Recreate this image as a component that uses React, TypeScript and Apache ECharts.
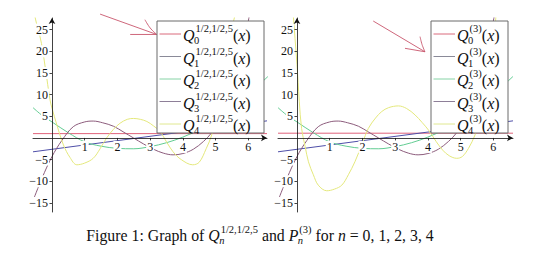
import React, { useEffect, useRef } from "react";
import * as echarts from "echarts";

// ---------- data ----------
const xRangeLeft = [-0.58, 6.57];
const xRangeRight = [-0.58, 6.6];
const yRange = [-17.1, 27.7];
const xTickValues = [1, 2, 3, 4, 5, 6];
const yTickValues = [-15, -10, -5, 5, 10, 15, 20, 25];

const q0Left = [[-0.58, 1.0], [6.57, 1.0]];
const q0Right = [[-0.58, 1.1], [6.6, 1.1]];
const q1Left = [[-0.58, -3.2], [6.57, 3.95]];
const q1Right = [[-0.58, -3.2], [6.6, 3.95]];
const q2Shared = [
  [-0.58, 7.0], [-0.3, 5.2], [0, 3.7], [0.5, 1.2], [1.0, -0.9], [1.5, -1.9], [2.0, -2.4],
  [2.5, -2.5], [3.0, -2.0], [3.5, -1.1], [4.0, 0.2], [4.5, 1.9], [5.0, 4.0], [5.5, 6.7],
  [6.0, 10.0], [6.6, 14.2],
];
const q3Shared = [
  [-0.58, -14.5], [-0.3, -9.2], [0, -4.3], [0.3, -0.6], [0.65, 2.6], [1.0, 3.7], [1.26, 3.9],
  [1.55, 3.5], [1.88, 2.7], [2.2, 1.3], [2.49, 0], [2.8, -1.4], [3.1, -2.6], [3.4, -3.5],
  [3.7, -3.9], [4.0, -3.6], [4.32, -2.6], [4.63, -0.8], [4.88, 1.2], [5.2, 4.8], [5.56, 10.5],
  [5.8, 18], [6.0, 27], [6.1, 31],
];
const q4Left = [
  [-0.58, 33], [-0.52, 28], [-0.42, 25], [-0.32, 21.8], [-0.2, 16], [-0.06, 8.8], [0, 6.9],
  [0.15, 3], [0.35, -1.6], [0.55, -4.5], [0.76, -6.2], [1.0, -5.8], [1.26, -4.7], [1.47, -2.5],
  [1.67, 0], [1.88, 2.0], [2.08, 3.4], [2.3, 4.3], [2.49, 4.5], [2.7, 4.3], [2.9, 3.8],
  [3.1, 2.8], [3.3, 1.5], [3.5, -0.9], [3.7, -3.2], [3.95, -5.0], [4.3, -6.2], [4.5, -5.6],
  [4.71, -2.5], [4.88, 0.7], [5.06, 6.9], [5.2, 13], [5.38, 21.8], [5.58, 28], [5.7, 34],
];
const q4Right = [
  [-0.16, 33], [-0.12, 29], [-0.06, 23], [0, 17], [0.07, 8.5], [0.14, 2.2], [0.25, -2],
  [0.35, -5.5], [0.5, -8.5], [0.65, -10.9], [0.91, -12.2], [1.15, -11.8], [1.37, -10.9],
  [1.57, -8.5], [1.77, -5.5], [2.0, -1.2], [2.18, 2.2], [2.4, 4.6], [2.59, 6.1], [2.8, 7.0],
  [3.1, 7.4], [3.35, 6.8], [3.61, 5.3], [3.82, 3.6], [4.02, 1.8], [4.25, -0.8], [4.45, -2.8],
  [4.65, -4.1], [4.88, -4.7], [5.05, -4.3], [5.24, -2.4], [5.44, 0.7], [5.6, 4.5], [5.8, 11],
  [6.0, 22], [6.1, 30],
];

const arrowLeft = [
  [[1.47, 28.6], [3.2, 23.9]],
  [[2.39, 23.9], [3.2, 23.9]],
  [[2.84, 27.3], [3.0, 25.4], [3.2, 23.9]],
];
const arrowRight = [
  [[2.33, 27.0], [3.91, 19.9]],
  [[3.3, 20.7], [3.91, 19.9]],
  [[3.76, 23.4], [3.82, 21.6], [3.91, 19.9]],
];

const seriesNames = ["Q0", "Q1", "Q2", "Q3", "Q4"];
const legendIndices = ["0", "1", "2", "3", "4"];
const leftSup = "1/2,1/2,5";
const rightSup = "(3)";

// ---------- styles ----------
const curveColors = ["#e0627a", "#4f4fa8", "#62cc92", "#8c5c7c", "#e4e87c"];
const legendColors = ["#da6a7c", "#8a8a98", "#86d3a6", "#8e7f98", "#e0e890"];
const arrowColor = "#c8566c";
const FONT = '"Liberation Serif", "DejaVu Serif", serif';

let measureCtx: CanvasRenderingContext2D | null = null;
function tw(text: string, font: string) {
  if (!measureCtx) measureCtx = document.createElement("canvas").getContext("2d");
  measureCtx!.font = font;
  return measureCtx!.measureText(text).width;
}
function fnt(size: number, it?: boolean) {
  return `${it ? "italic " : ""}${size}px ${FONT}`;
}

type Piece = { t: string; it?: boolean; sup?: string; sub?: string; subIt?: boolean };

function mathText(
  pieces: Piece[], x: number, y: number, size: number, small: number,
  align: "left" | "center", supK: number, subK: number
) {
  const widths = pieces.map((p) => {
    let w = tw(p.t, fnt(size, p.it));
    if (p.sup || p.sub) {
      w += Math.max(p.sup ? tw(p.sup, fnt(small)) : 0, p.sub ? tw(p.sub, fnt(small, p.subIt)) : 0) + 1;
    }
    return w;
  });
  const total = widths.reduce((a, b) => a + b, 0);
  let cx = align === "center" ? x - total / 2 : x;
  const els: any[] = [];
  const txt = (t: string, px: number, py: number, font: string, lh: number) => ({
    type: "text",
    x: px,
    y: py,
    z: 110,
    style: {
      text: t, font, fill: "#111", lineHeight: lh,
      align: "left", verticalAlign: "middle", textAlign: "left", textVerticalAlign: "middle",
    },
  });
  pieces.forEach((p) => {
    els.push(txt(p.t, cx, y, fnt(size, p.it), size));
    cx += tw(p.t, fnt(size, p.it));
    if (p.sup || p.sub) {
      let a = 0, b = 0;
      if (p.sup) {
        els.push(txt(p.sup, cx + 1, y - size * supK, fnt(small), small));
        a = tw(p.sup, fnt(small));
      }
      if (p.sub) {
        els.push(txt(p.sub, cx - 0.5, y + size * subK, fnt(small, p.subIt), small));
        b = tw(p.sub, fnt(small, p.subIt));
      }
      cx += Math.max(a, b) + 1;
    }
  });
  return els;
}

function legendBox(x: number, y: number, w: number, h: number, rows: number[], sup: string, size: number, small: number) {
  const els: any[] = [
    { type: "rect", z: 100, shape: { x, y, width: w, height: h }, style: { fill: "#fff", stroke: "#6a6a6a", lineWidth: 1 } },
  ];
  rows.forEach((ry, i) => {
    els.push({
      type: "line",
      z: 105,
      shape: { x1: x + 2.5, y1: ry, x2: x + 24, y2: ry },
      style: { stroke: legendColors[i], lineWidth: 1 },
    });
    els.push(
      ...mathText(
        [
          { t: "Q", it: true, sup, sub: legendIndices[i] },
          { t: "(" },
          { t: "x", it: true },
          { t: ")" },
        ],
        x + 26,
        ry + 1.5,
        size,
        small,
        "left",
        0.41,
        0.33
      )
    );
  });
  return els;
}

type GridBox = { left: number; top: number; width: number; height: number };

function axisPair(grid: number, g: GridBox, xr: number[]) {
  const zeroY = g.top + (g.height * yRange[1]) / (yRange[1] - yRange[0]);
  const zeroX = g.left + (g.width * (0 - xr[0])) / (xr[1] - xr[0]);
  const common = {
    gridIndex: grid,
    type: "value",
    z: 5,
    splitLine: { show: false },
    axisLine: {
      onZero: false,
      symbol: ["none", "arrow"],
      symbolSize: [5, 6],
      lineStyle: { color: "#111", width: 0.8 },
    },
    axisTick: { length: 2.5, lineStyle: { color: "#111", width: 0.8 } },
    axisLabel: {
      color: "#111",
      fontFamily: FONT,
      fontSize: 12,
      backgroundColor: "#fff",
      padding: [0, 1],
      formatter: (v: number) => (v < 0 ? "\u2212" + Math.abs(v) : String(v)),
    },
  };
  const x = {
    ...common,
    position: "bottom",
    offset: -(g.top + g.height - zeroY),
    min: xr[0],
    max: xr[1],
    axisTick: { ...common.axisTick, customValues: xTickValues },
    axisLabel: { ...common.axisLabel, customValues: xTickValues, margin: 3 },
  };
  const y = {
    ...common,
    position: "left",
    offset: -(zeroX - g.left),
    min: yRange[0],
    max: yRange[1],
    axisTick: { ...common.axisTick, customValues: yTickValues },
    axisLabel: { ...common.axisLabel, customValues: yTickValues, margin: 3 },
  };
  return { x, y };
}

function curve(name: string, data: number[][], idx: number, grid: number, smooth: number | boolean) {
  return {
    name,
    type: "line",
    xAxisIndex: grid,
    yAxisIndex: grid,
    data,
    showSymbol: false,
    symbol: "none",
    smooth,
    clip: true,
    silent: true,
    z: 2,
    lineStyle: { color: curveColors[idx], width: 1 },
  };
}

function arrowSeries(strokes: number[][][], grid: number) {
  return strokes.map((s, i) => ({
    name: "arrow" + grid + "_" + i,
    type: "line",
    xAxisIndex: grid,
    yAxisIndex: grid,
    data: s,
    symbol: "none",
    smooth: s.length > 2 ? 0.4 : false,
    clip: false,
    silent: true,
    z: 3,
    lineStyle: { color: arrowColor, width: 0.9 },
  }));
}

export default function App() {
  const ref = useRef<HTMLDivElement>(null);
  useEffect(() => {
    if (!ref.current) return;
    const chart = echarts.init(ref.current, undefined, { renderer: "svg" });
    const gridL: GridBox = { left: 33, top: 18, width: 234, height: 194 };
    const gridR: GridBox = { left: 278, top: 18, width: 235, height: 194 };
    const left = axisPair(0, gridL, xRangeLeft);
    const right = axisPair(1, gridR, xRangeRight);
    const leftData = [q0Left, q1Left, q2Shared, q3Shared, q4Left];
    const rightData = [q0Right, q1Right, q2Shared, q3Shared, q4Right];
    const rowsY = [34, 56.5, 79, 101.5, 124];

    const caption: Piece[] = [
      { t: "Figure 1: Graph of " },
      { t: "Q", it: true, sup: leftSup, sub: "n", subIt: true },
      { t: " and " },
      { t: "P", it: true, sup: rightSup, sub: "n", subIt: true },
      { t: " for " },
      { t: "n", it: true },
      { t: " = 0, 1, 2, 3, 4" },
    ];

    chart.setOption({
      animation: false,
      backgroundColor: "#fff",
      grid: [
        { ...gridL, outerBoundsMode: "none" },
        { ...gridR, outerBoundsMode: "none" },
      ],
      xAxis: [left.x, right.x],
      yAxis: [left.y, right.y],
      series: [
        ...leftData.map((d, i) => curve(seriesNames[i] + "L", d, i, 0, i < 2 ? false : 0.35)),
        ...rightData.map((d, i) => curve(seriesNames[i] + "R", d, i, 1, i < 2 ? false : 0.35)),
        ...arrowSeries(arrowLeft, 0),
        ...arrowSeries(arrowRight, 1),
      ],
      graphic: [
        ...legendBox(157, 21, 107, 112, rowsY, leftSup, 16, 10.5),
        ...legendBox(431, 21, 77, 112, rowsY, rightSup, 16, 10.5),
        ...mathText(caption, 260, 235.5, 15.8, 10.5, "center", 0.4, 0.32),
      ],
    });
    return () => chart.dispose();
  }, []);
  return <div ref={ref} style={{ position: "fixed", left: 0, top: 0, width: 540, height: 265 }} />;
}
